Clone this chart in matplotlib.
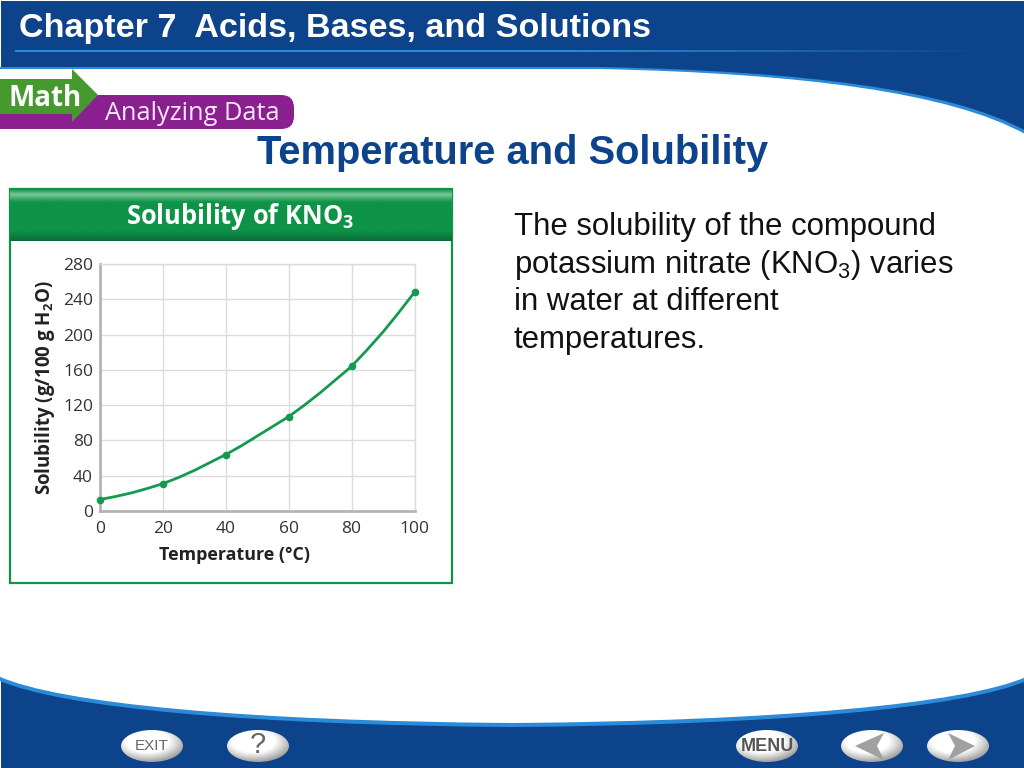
import numpy as np
import matplotlib
matplotlib.use("Agg")
import matplotlib.pyplot as plt
from matplotlib.path import Path
from matplotlib.patches import PathPatch, Ellipse, Rectangle, Polygon, FancyBboxPatch

# ---- data ----
point_temps = [0, 20, 40, 60, 80, 100]
point_solubility = [13, 31, 64, 107, 164, 248]
curve_temps = [0, 5, 10, 15, 20, 25, 30, 35, 40, 45, 50, 55, 60, 65, 70, 75, 80, 85, 90, 95, 100]
curve_solubility = [13, 16.5, 20.5, 25.5, 31, 38, 46, 55, 64, 74, 85, 96, 107, 120, 134, 149, 164, 183, 203, 225, 248]
x_ticks = [0, 20, 40, 60, 80, 100]
y_ticks = [0, 40, 80, 120, 160, 200, 240, 280]

header_text = "Chapter 7  Acids, Bases, and Solutions"
slide_title = "Temperature and Solubility"
body_lines = ["The solubility of the compound",
              "potassium nitrate (KNO$\\mathregular{_3}$) varies",
              "in water at different",
              "temperatures."]
chart_title = "Solubility of KNO$\\mathregular{_3}$"
x_label = "Temperature (\u00b0C)"
y_label = "Solubility (g/100 g H$\\mathregular{_2}$O)"

# ---- colours ----
BLUE = "#0C438B"
BAND = "#2C8BD8"
GREEN = "#0E9347"
LINE_GREEN = "#149A50"
PURPLE = "#8A1F8F"
ARROW = "#45992F"
TICK = "#333333"

W, H = 1024, 768
fig = plt.figure(figsize=(W / 100, H / 100), dpi=100, facecolor="white")
bg = fig.add_axes([0, 0, 1, 1])
bg.set_axis_off()


def gradient(ax, extent, colors, stops, vertical=True, clip=None, z=1):
    n = 128
    t = np.linspace(0, 1, n)
    rgba = np.array([matplotlib.colors.to_rgba(c) for c in colors])
    arr = np.stack([np.interp(t, stops, rgba[:, i]) for i in range(4)], axis=1)
    arr = arr[:, None, :] if vertical else arr[None, :, :]
    im = ax.imshow(arr, extent=extent, aspect="auto", origin="upper", zorder=z,
                   interpolation="bilinear")
    if clip is not None:
        im.set_clip_path(clip)
    return im


def white_area(top_off, bottom_off):
    a, b = top_off, bottom_off
    verts = [(-2, 67 + a), (600, 67 + a),
             (800, 71 + a * 1.2), (950, 89 + a * 1.6), (1026, 131 + a * 1.8),
             (1026, 678 - b),
             (964, 705 - b), (774, 722 - b), (512, 724 - b),
             (250, 722 - b), (60, 705 - b), (-2, 677 - b),
             (-2, 67 + a)]
    codes = [Path.MOVETO, Path.LINETO,
             Path.CURVE4, Path.CURVE4, Path.CURVE4,
             Path.LINETO,
             Path.CURVE4, Path.CURVE4, Path.CURVE4,
             Path.CURVE4, Path.CURVE4, Path.CURVE4,
             Path.CLOSEPOLY]
    return Path(verts, codes)


# backdrop
bg.add_patch(Rectangle((1, 1), W, H, fc=BLUE, ec="none", zorder=0))
bg.add_patch(PathPatch(white_area(0, -3), fc=BAND, ec="none", zorder=1))
bg.add_patch(PathPatch(white_area(2, 1), fc="white", ec="none", zorder=2))

# header rule, fading to the right
gradient(bg, (15, 1000, 52.5, 50.5), ["#2C8BD8", "#2C8BD8", "#0C438B"], [0, 0.55, 1],
         vertical=False, z=3)
bg.text(19, 28, header_text, color="white", fontsize=24.6, fontweight="bold",
        family="Liberation Sans", va="center", ha="left", zorder=5)

# Math / Analyzing Data badge
purple_box = FancyBboxPatch((-30, 95), 324, 34, boxstyle="round,pad=0,rounding_size=13",
                            fc=PURPLE, ec="none", zorder=3)
bg.add_patch(purple_box)
bg.add_patch(Polygon([(0, 79), (72, 79), (72, 69), (98, 95), (72, 122), (72, 114), (0, 114)],
                     closed=True, fc=ARROW, ec="none", zorder=4))
bg.text(45, 99, "Math", color="white", fontsize=20, fontweight="bold", family="Open Sans",
        ha="center", va="center", zorder=5)
bg.text(192, 114, "Analyzing Data", color="#F6E8F6", fontsize=18.3, family="Open Sans",
        ha="center", va="center", zorder=5)

# slide title and body text
bg.text(512.5, 152.5, slide_title, color=BLUE, fontsize=28.7, fontweight="bold",
        family="Liberation Sans", ha="center", va="center", zorder=5)
for line, y in zip(body_lines, [227, 265, 302, 340]):
    bg.text(514, y, line, color="#111111", fontsize=22.4, family="Liberation Sans",
            ha="left", va="center", zorder=5)

# chart panel
bg.add_patch(Rectangle((10, 189), 442, 394, fc="white", ec=GREEN, lw=1.6, zorder=3))
gradient(bg, (10, 452, 241, 189),
         [GREEN, "#7CC79A", GREEN, GREEN, "#0A6A36"], [0, 0.1, 0.25, 0.8, 1], z=4)
bg.text(240, 216, chart_title, color="white", fontsize=18.4, fontweight="bold",
        family="Open Sans", ha="center", va="center", zorder=5)


# footer buttons
def button(cx, cy, side=0.0):
    e = Ellipse((cx, cy), 62, 32, transform=bg.transData, fc="none", ec="none", zorder=4)
    bg.add_patch(e)
    yy, xx = np.mgrid[-1:1:64j, -1:1:64j]
    r = np.hypot(xx + 0.15 - side, yy + 0.3)
    shade = np.clip(1.08 - 0.62 * np.clip(r - 0.55, 0, None) ** 1.1, 0, 1)
    grey = np.clip(shade, 0.55, 1.0)
    arr = np.dstack([grey, grey, grey])
    im = bg.imshow(arr, extent=(cx - 31, cx + 31, cy + 16, cy - 16), aspect="auto",
                   origin="upper", zorder=4, interpolation="bilinear")
    im.set_clip_path(e)


for cx in [152, 258, 767, 872, 958]:
    button(cx, 746)
bg.text(152, 746.5, "EXIT", color="#666666", fontsize=11, family="Liberation Sans", ha="center",
        va="center", zorder=5)
bg.text(258, 745, "?", color="#666666", fontsize=21, family="Liberation Sans", ha="center",
        va="center", zorder=5)
bg.text(767, 746.5, "MENU", color="#555555", fontsize=13, fontweight="bold",
        family="Liberation Sans", ha="center", va="center", zorder=5)
bg.add_patch(Polygon([(855, 746), (884, 733), (877, 746), (884, 760)], closed=True,
                     fc="#A0A0A0", ec="none", zorder=5))
bg.add_patch(Polygon([(975, 746), (948, 733), (955, 746), (948, 760)], closed=True,
                     fc="#A0A0A0", ec="none", zorder=5))

bg.set_xlim(0, W)
bg.set_ylim(H, 0)

# ---- the chart ----
L, R, T, B = 100, 414.5, 264, 511
ax = fig.add_axes([L / W, 1 - B / H, (R - L) / W, (B - T) / H], facecolor="none", zorder=6)
ax.set_xlim(0, 100)
ax.set_ylim(0, 280)
ax.set_xticks(x_ticks)
ax.set_yticks(y_ticks)
ax.grid(True, color="#DCDCDC", lw=1.0)
ax.set_axisbelow(True)
ax.tick_params(axis="y", length=0, labelsize=12.5, labelcolor=TICK, pad=5)
ax.tick_params(axis="x", length=0, labelsize=12.5, labelcolor=TICK, pad=7.5)
for lab in ax.get_xticklabels() + ax.get_yticklabels():
    lab.set_family("Open Sans")
for name, sp in ax.spines.items():
    sp.set_color("#B4B4B4" if name in ("left", "bottom") else "#DCDCDC")
    sp.set_linewidth(2.0 if name in ("left", "bottom") else 1.0)
ax.plot(curve_temps, curve_solubility, color=LINE_GREEN, lw=2.0, clip_on=False, zorder=5,
        solid_joinstyle="round")
ax.plot(point_temps, point_solubility, "o", color=LINE_GREEN, ms=5.5, mec="none",
        clip_on=False, zorder=6)
ax.set_xlabel(x_label, fontsize=12.9, fontweight="bold", family="Open Sans", color="#222222",
              labelpad=6.5, x=0.429)
ax.set_ylabel(y_label, fontsize=13.5, fontweight="bold", family="Open Sans", color="#222222",
              labelpad=4)

fig.savefig("out.png", dpi=100)
